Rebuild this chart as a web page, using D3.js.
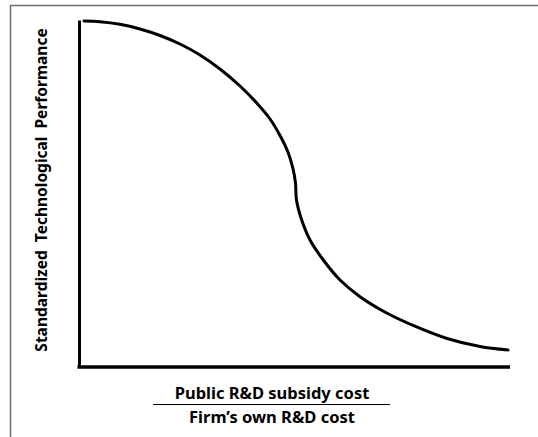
<!DOCTYPE html>
<html>
<head>
<meta charset="utf-8">
<script src="https://cdn.jsdelivr.net/npm/d3@7"></script>
<style>
  body { margin: 0; background: #fff; }
  text { font-family: "Noto Sans", "Open Sans", sans-serif; font-weight: bold; fill: #000; }
</style>
</head>
<body>
<div id="chart"></div>
<script>
// curve (x and y in 0-100 units of the axes)
const curveX = [1.16, 4.87, 9.51, 14.15, 18.79, 23.43, 28.07, 32.71, 37.35, 41.23, 44.32, 46.64, 48.56, 49.72,
    50.23, 50.46, 51.67, 53.6, 56.68, 60.56, 65.2, 71.39, 78.35, 85.38, 93.04, 99.54];
const curveY = [99.71, 99.51, 98.76, 97.41, 95.53, 93.08, 89.91, 85.88, 80.98, 76.08, 71.47, 66.71, 61.67, 56.77,
    53.03, 48.13, 42.36, 36.6, 30.84, 25.07, 20.26, 15.56, 11.53, 8.21, 5.91, 4.9];

const yLabel = "Standardized  Technological  Performance";
const xLabelTop = "Public R&D subsidy cost";
const xLabelBottom = "Firm\u2019s own R&D cost";

const W = 538, H = 437;
const margin = {top: 20, right: 28, bottom: 70, left: 79};

const svg = d3.select("#chart").append("svg")
    .attr("width", W)
    .attr("height", H);

// outer frame (only top and left edges show)
svg.append("path")
    .attr("d", `M10.5,${H} V5.5 H${W}`)
    .attr("fill", "none")
    .attr("stroke", "#6e6e6e")
    .attr("stroke-width", 1.5);

const x = d3.scaleLinear().domain([0, 100]).range([margin.left, W - margin.right]);
const y = d3.scaleLinear().domain([0, 100]).range([H - margin.bottom, margin.top]);

// axes without ticks
const yAxisG = svg.append("g")
    .attr("transform", `translate(${margin.left},0)`)
    .call(d3.axisLeft(y).tickValues([]).tickSizeOuter(0));
const xAxisG = svg.append("g")
    .attr("transform", `translate(0,${H - margin.bottom})`)
    .call(d3.axisBottom(x).tickValues([]).tickSizeOuter(0));
yAxisG.select(".domain").attr("stroke", "#000").attr("stroke-width", 3);
xAxisG.select(".domain").attr("stroke", "#000").attr("stroke-width", 3.5)
    .attr("d", `M${margin.left - 1.5},0H${W - margin.right}`);

// the curve
const pts = curveX.map((d, i) => [d, curveY[i]]);
const line = d3.line()
    .x(d => x(d[0]))
    .y(d => y(d[1]))
    .curve(d3.curveCatmullRom.alpha(0.5));

svg.append("path")
    .datum(pts)
    .attr("d", line)
    .attr("fill", "none")
    .attr("stroke", "#000")
    .attr("stroke-width", 3)
    .attr("stroke-linecap", "round");

// y label
svg.append("text")
    .attr("transform", "translate(47,190) rotate(-90)")
    .attr("text-anchor", "middle")
    .attr("font-size", 15.5)
    .style("white-space", "pre")
    .text(yLabel);

// x label as a fraction
const cx = 272;
svg.append("text")
    .attr("x", cx).attr("y", 399)
    .attr("text-anchor", "middle")
    .attr("font-size", 16.5)
    .text(xLabelTop);
svg.append("line")
    .attr("x1", 153).attr("x2", 390)
    .attr("y1", 404.5).attr("y2", 404.5)
    .attr("stroke", "#000")
    .attr("stroke-width", 1);
svg.append("text")
    .attr("x", cx).attr("y", 423)
    .attr("text-anchor", "middle")
    .attr("font-size", 16.5)
    .text(xLabelBottom);
</script>
</body>
</html>
